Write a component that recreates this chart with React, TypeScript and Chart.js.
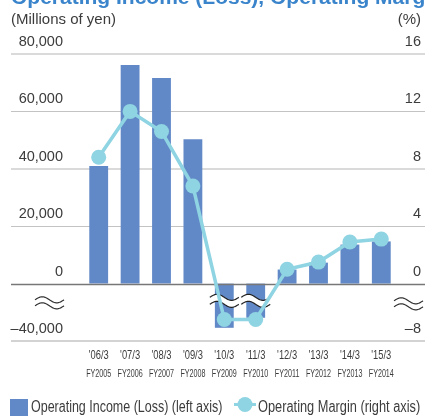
import { useEffect, useRef } from "react";
import { Chart, registerables } from "chart.js";

Chart.register(...registerables);

const periodLabels = ["'06/3", "'07/3", "'08/3", "'09/3", "'10/3", "'11/3", "'12/3", "'13/3", "'14/3", "'15/3"];
const fiscalLabels = ["FY2005", "FY2006", "FY2007", "FY2008", "FY2009", "FY2010", "FY2011", "FY2012", "FY2013", "FY2014"];
const operatingIncome = [41000, 76200, 71600, 50300, -30800, -23800, 4900, 7300, 13600, 14700];
const operatingMargin = [8.8, 12.0, 10.6, 6.8, -5.0, -5.0, 1.0, 1.5, 2.9, 3.1];

const titleText = "Operating Income (Loss), Operating Margin";
const leftUnit = "(Millions of yen)";
const rightUnit = "(%)";
const legendIncome = "Operating Income (Loss) (left axis)";
const legendMargin = "Operating Margin (right axis)";

// values below zero are drawn on a broken (compressed) axis
const BREAK_RATIO = 0.5;
const compress = (v: number) => (v < 0 ? v * BREAK_RATIO : v);

const BAR_COLOR = "#6289c7";
const LINE_COLOR = "#8fd4e2";
const TEXT_COLOR = "#3c3c3c";
const SANS = "'Liberation Sans', Arial, sans-serif";

function fmtLeft(v: number) {
  const real = v < 0 ? v / BREAK_RATIO : v;
  const s = Math.abs(real).toLocaleString("en-US");
  return real < 0 ? "\u2013" + s : s;
}
function fmtRight(v: number) {
  const real = v < 0 ? v / BREAK_RATIO : v;
  const s = String(Math.abs(real));
  return real < 0 ? "\u2013" + s : s;
}

function waveLine(ctx: CanvasRenderingContext2D, x0: number, x1: number, yc: number, amp: number) {
  let first = true;
  for (let x = x0; x <= x1 + 0.01; x += 0.5) {
    const t = (x - x0) / (x1 - x0);
    const y = yc - amp * Math.sin(t * Math.PI * 2);
    if (first) { ctx.moveTo(x, y); first = false; }
    else ctx.lineTo(x, y);
  }
}

function axisBreak(ctx: CanvasRenderingContext2D, x0: number, x1: number, yc: number) {
  ctx.save();
  ctx.strokeStyle = "#333";
  ctx.lineWidth = 1.2;
  ctx.beginPath();
  waveLine(ctx, x0, x1, yc - 3, 3);
  ctx.stroke();
  ctx.beginPath();
  waveLine(ctx, x0, x1, yc + 3, 3);
  ctx.stroke();
  ctx.restore();
}

function barBreak(ctx: CanvasRenderingContext2D, x0: number, x1: number, yc: number) {
  ctx.save();
  ctx.fillStyle = "#ffffff";
  ctx.beginPath();
  waveLine(ctx, x0, x1, yc - 3.5, 3);
  for (let x = x1; x >= x0 - 0.01; x -= 0.5) {
    const t = (x - x0) / (x1 - x0);
    ctx.lineTo(x, yc + 3.5 - 3 * Math.sin(t * Math.PI * 2));
  }
  ctx.closePath();
  ctx.fill();
  ctx.strokeStyle = "#222";
  ctx.lineWidth = 1.2;
  ctx.beginPath();
  waveLine(ctx, x0, x1, yc - 3.5, 3);
  ctx.stroke();
  ctx.beginPath();
  waveLine(ctx, x0, x1, yc + 3.5, 3);
  ctx.stroke();
  ctx.restore();
}

function scaledText(ctx: CanvasRenderingContext2D, text: string, x: number, y: number, sx: number, align: CanvasTextAlign) {
  ctx.save();
  ctx.translate(x, y);
  ctx.scale(sx, 1);
  ctx.textAlign = align;
  ctx.fillText(text, 0, 0);
  ctx.restore();
}

const decorPlugin = {
  id: "decor",
  beforeDatasetsDraw(chart: any) {
    const ctx: CanvasRenderingContext2D = chart.ctx;
    const y = chart.scales.y;
    const styles: Record<string, [string, number]> = {
      "80000": ["#dadada", 2],
      "60000": ["#c3c3c3", 1],
      "40000": ["#dadada", 2],
      "20000": ["#c3c3c3", 1],
      "-20000": ["#d3d3d3", 2],
    };
    ctx.save();
    y.ticks.forEach((t: any) => {
      const st = styles[String(t.value)];
      if (!st) return;
      const py = Math.round(y.getPixelForValue(t.value)) + (st[1] === 1 ? 0.5 : 0);
      ctx.strokeStyle = st[0];
      ctx.lineWidth = st[1];
      ctx.beginPath();
      ctx.moveTo(11, py);
      ctx.lineTo(425, py);
      ctx.stroke();
    });
    ctx.restore();
  },
  afterDatasetDraw(chart: any, args: any) {
    if (args.index !== 0) return;
    const ctx: CanvasRenderingContext2D = chart.ctx;
    const y = chart.scales.y;
    const zy = Math.round(y.getPixelForValue(0)) + 0.5;
    ctx.save();
    ctx.strokeStyle = "#777";
    ctx.lineWidth = 1.5;
    ctx.beginPath();
    ctx.moveTo(11, zy);
    ctx.lineTo(425, zy);
    ctx.stroke();
    ctx.restore();
    const breakValue = -6000;
    const by = y.getPixelForValue(breakValue);
    const meta = chart.getDatasetMeta(0);
    meta.data.forEach((bar: any, i: number) => {
      if (compress(operatingIncome[i]) < breakValue) {
        barBreak(ctx, bar.x - 14.5, bar.x + 14.5, by);
      }
    });
    axisBreak(ctx, 35, 64, by + 2);
    axisBreak(ctx, 394, 423, by + 3);
  },
  afterDraw(chart: any) {
    const ctx: CanvasRenderingContext2D = chart.ctx;
    const x = chart.scales.x;
    ctx.save();
    // title (partly outside the picture)
    ctx.fillStyle = "#3a84cb";
    ctx.font = `bold 21px ${SANS}`;
    ctx.textBaseline = "alphabetic";
    ctx.textAlign = "left";
    ctx.fillText(titleText, 11, 4);
    // unit labels
    ctx.fillStyle = TEXT_COLOR;
    ctx.font = `15px ${SANS}`;
    ctx.textBaseline = "middle";
    ctx.textAlign = "left";
    ctx.fillText(leftUnit, 11, 20);
    ctx.textAlign = "right";
    ctx.fillText(rightUnit, 421, 20);
    // category labels
    periodLabels.forEach((lab, i) => {
      const px = x.getPixelForValue(i);
      ctx.font = `13px ${SANS}`;
      scaledText(ctx, lab, px, 355.5, 0.72, "center");
      ctx.font = `11px ${SANS}`;
      scaledText(ctx, fiscalLabels[i], px, 374, 0.65, "center");
    });
    // legend
    ctx.fillStyle = BAR_COLOR;
    ctx.fillRect(10, 399, 18, 18);
    ctx.fillStyle = TEXT_COLOR;
    ctx.font = `16px ${SANS}`;
    scaledText(ctx, legendIncome, 31, 408, 0.78, "left");
    ctx.strokeStyle = LINE_COLOR;
    ctx.lineWidth = 3;
    ctx.beginPath();
    ctx.moveTo(234, 404.5);
    ctx.lineTo(256, 404.5);
    ctx.stroke();
    ctx.fillStyle = LINE_COLOR;
    ctx.beginPath();
    ctx.arc(245, 404.5, 7.5, 0, Math.PI * 2);
    ctx.fill();
    ctx.fillStyle = TEXT_COLOR;
    scaledText(ctx, legendMargin, 258, 408, 0.8, "left");
    ctx.restore();
  },
};

export default function App() {
  const ref = useRef<HTMLCanvasElement>(null);
  useEffect(() => {
    if (!ref.current) return;
    const chart = new Chart(ref.current, {
      type: "bar",
      data: {
        labels: periodLabels,
        datasets: [
          {
            type: "bar",
            label: legendIncome,
            data: operatingIncome.map(compress),
            backgroundColor: BAR_COLOR,
            borderWidth: 0,
            yAxisID: "y",
            order: 2,
            categoryPercentage: 1,
            barPercentage: 0.6,
          },
          {
            type: "line",
            label: legendMargin,
            data: operatingMargin.map(compress),
            borderColor: LINE_COLOR,
            backgroundColor: LINE_COLOR,
            borderWidth: 3.5,
            pointRadius: 7.5,
            pointBorderWidth: 0,
            pointBackgroundColor: LINE_COLOR,
            tension: 0,
            yAxisID: "y1",
            order: 1,
          } as any,
        ],
      },
      options: {
        responsive: false,
        animation: false,
        layout: { padding: { top: 54, bottom: 75, left: 0, right: 4 } },
        plugins: { legend: { display: false }, tooltip: { enabled: false }, title: { display: false } },
        scales: {
          x: { display: false, offset: true, grid: { display: false } },
          y: {
            position: "left",
            min: -20000,
            max: 80000,
            afterFit: (s: any) => { s.width = 83; },
            grid: { display: false, drawTicks: false },
            border: { display: false },
            ticks: {
              stepSize: 20000,
              padding: 20,
              labelOffset: -12,
              color: TEXT_COLOR,
              font: { family: SANS, size: 14.5 },
              callback: (v: any) => fmtLeft(Number(v)),
            },
          },
          y1: {
            position: "right",
            min: -4,
            max: 16,
            afterFit: (s: any) => { s.width = 24; },
            grid: { display: false, drawTicks: false },
            border: { display: false },
            ticks: {
              stepSize: 4,
              padding: 0,
              crossAlign: "far",
              labelOffset: -12,
              color: TEXT_COLOR,
              font: { family: SANS, size: 14.5 },
              callback: (v: any) => fmtRight(Number(v)),
            },
          },
        },
      } as any,
      plugins: [decorPlugin],
    });
    return () => chart.destroy();
  }, []);
  return (
    <div style={{ position: "absolute", left: 0, top: 0, width: 425, height: 416, background: "#fff" }}>
      <canvas ref={ref} width={425} height={416} style={{ display: "block" }} />
    </div>
  );
}
